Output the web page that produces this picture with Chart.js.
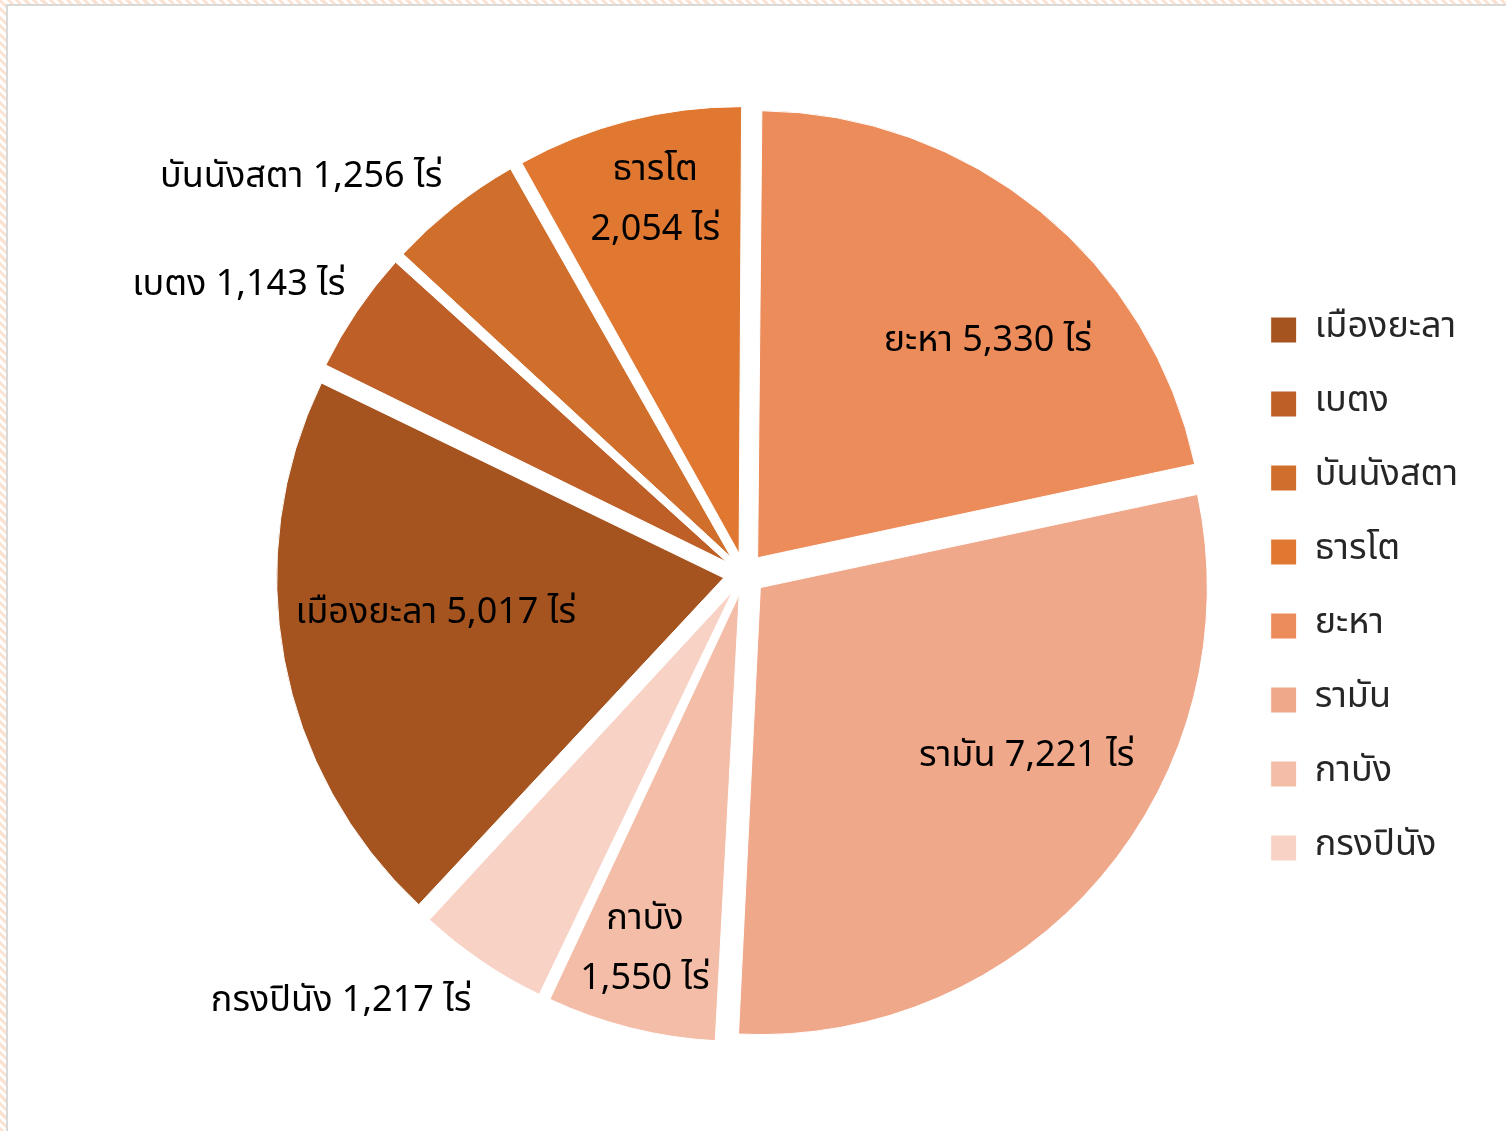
<!DOCTYPE html>
<html>
<head>
<meta charset="utf-8">
<script src="https://cdn.jsdelivr.net/npm/chart.js@4.4.1/dist/chart.umd.min.js"></script>
<style>
  html, body { margin: 0; padding: 0; background: #fff; }
  #frame { position: absolute; left: 0; top: 0; width: 1506px; height: 1131px; overflow: hidden;
    background: repeating-linear-gradient(45deg, #fbe3d4 0 3px, #ffffff 3px 6px); }
  #inner { position: absolute; left: 6px; top: 4px; right: 0; bottom: 0; background: #fff;
    border-left: 2px solid #d9d9d9; border-top: 2px solid #d9d9d9; }
  #wrap { position: absolute; left: 0; top: 0; width: 1506px; height: 1131px; }
</style>
</head>
<body>
<div id="frame"><div id="inner"></div></div>
<div id="wrap"><canvas id="c"></canvas></div>
<script>
// ---- data ----
const districts = ['เมืองยะลา', 'เบตง', 'บันนังสตา', 'ธารโต', 'ยะหา', 'รามัน', 'กาบัง', 'กรงปินัง'];
const areaRai   = [5017, 1143, 1256, 2054, 5330, 7221, 1550, 1217];
const unitLabel = 'ไร่';

// ---- styles ----
const firstSliceAngle = 223;   // degrees clockwise from 12 o'clock
const sliceColors = ['#A5541F', '#BD5F27', '#D06E2C', '#E17832', '#EC8C5B', '#F0A88B', '#F3BDA7', '#F7D2C5'];
const FONT = "'Noto Sans Thai', 'Noto Sans Thai UI', Tahoma, 'Leelawadee UI', 'Noto Sans', 'DejaVu Sans', sans-serif";
const FONT_SIZE = 36;

// label placement: radius as fraction of pie radius, angle tweak in degrees, split into 2 lines
const labelPlacement = [
  { r: 0.695, da: 3.9,  split: false },
  { r: 1.307, da: -4.1, split: false },
  { r: 1.336, da: -9.5, split: false },
  { r: 0.868, da: 1.1,  split: true  },
  { r: 0.759, da: 6.6,  split: false },
  { r: 0.748, da: -8.0, split: false },
  { r: 0.861, da: 0.9,  split: true  },
  { r: 1.309, da: 9.4,  split: false }
];
const labelShiftY = 6;
const labelLineHeight = 60;

// keep exploded slices at the same radius (pure translation, like the original)
const explodeFix = {
  id: 'explodeFix',
  afterDatasetUpdate(chart, args) {
    const meta = args.meta;
    const R = meta.controller.outerRadius;
    meta.data.forEach(arc => {
      const off = ((arc.options && arc.options.offset) || 0) / 4;
      const c = arc.circumference;
      arc.outerRadius = R - off * (1 - Math.sin(Math.min(Math.PI, c)));
    });
  }
};

const sliceLabels = {
  id: 'sliceLabels',
  afterDatasetsDraw(chart) {
    const ctx = chart.ctx;
    const meta = chart.getDatasetMeta(0);
    const R = meta.controller.outerRadius;
    ctx.save();
    ctx.font = FONT_SIZE + 'px ' + FONT;
    ctx.fillStyle = '#000';
    ctx.textAlign = 'center';
    ctx.textBaseline = 'middle';
    meta.data.forEach((arc, i) => {
      const p = arc.getProps(['x', 'y', 'startAngle', 'endAngle'], true);
      const pl = labelPlacement[i];
      const a = (p.startAngle + p.endAngle) / 2 + pl.da * Math.PI / 180;
      const cx = p.x + Math.cos(a) * R * pl.r;
      const cy = p.y + Math.sin(a) * R * pl.r + labelShiftY;
      const val = areaRai[i].toLocaleString('en-US') + ' ' + unitLabel;
      const lines = pl.split ? [districts[i], val] : [districts[i] + ' ' + val];
      lines.forEach((t, k) => ctx.fillText(t, cx, cy + (k - (lines.length - 1) / 2) * labelLineHeight));
    });
    ctx.restore();
  }
};

new Chart(document.getElementById('c'), {
  type: 'pie',
  data: {
    labels: districts,
    datasets: [{
      data: areaRai,
      backgroundColor: sliceColors,
      borderColor: '#ffffff',
      borderWidth: 1,
      offset: 84
    }]
  },
  options: {
    responsive: true,
    maintainAspectRatio: false,
    animation: false,
    events: [],
    rotation: firstSliceAngle,
    radius: 447,
    layout: { padding: { left: 256, right: 38, top: 17, bottom: 0 } },
    plugins: {
      tooltip: { enabled: false },
      legend: {
        position: 'right',
        title: { display: true, text: '', font: { size: 10, lineHeight: 1.2 }, padding: { top: 9, bottom: 9 } },
        labels: {
          font: { size: FONT_SIZE, family: FONT },
          color: '#262626',
          boxWidth: 26,
          boxHeight: 26,
          padding: 38
        }
      }
    }
  },
  plugins: [explodeFix, sliceLabels]
});
</script>
</body>
</html>
